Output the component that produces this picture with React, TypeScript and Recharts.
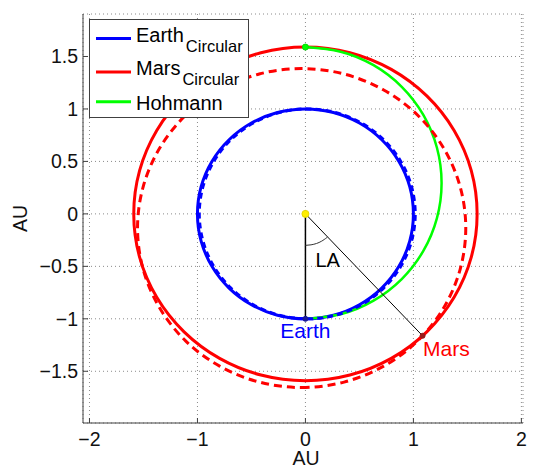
import { LineChart, Line, XAxis, YAxis, CartesianGrid, Legend, ReferenceDot } from 'recharts'

type Pt = [number, number]

const xTicks = [-2, -1, 0, 1, 2]
const yTicks = [-1.5, -1, -0.5, 0, 0.5, 1, 1.5]

// orbits, in AU
const earthCircular: Pt[] = [
  [0, -1], [0.259, -0.966], [0.5, -0.866], [0.707, -0.707], [0.866, -0.5], [0.966, -0.259],
  [1, 0], [0.966, 0.259], [0.866, 0.5], [0.707, 0.707], [0.5, 0.866], [0.259, 0.966],
  [0, 1], [-0.259, 0.966], [-0.5, 0.866], [-0.707, 0.707], [-0.866, 0.5], [-0.966, 0.259],
  [-1, 0], [-0.966, -0.259], [-0.866, -0.5], [-0.707, -0.707], [-0.5, -0.866], [-0.259, -0.966],
  [0, -1],
]

const earthActual: Pt[] = [
  [0.017, -1], [0.276, -0.966], [0.517, -0.866], [0.724, -0.707], [0.883, -0.5], [0.983, -0.259],
  [1.017, 0], [0.983, 0.259], [0.883, 0.5], [0.724, 0.707], [0.517, 0.866], [0.276, 0.966],
  [0.017, 1], [-0.242, 0.966], [-0.483, 0.866], [-0.69, 0.707], [-0.849, 0.5], [-0.949, 0.259],
  [-0.983, 0], [-0.949, -0.259], [-0.849, -0.5], [-0.69, -0.707], [-0.483, -0.866], [-0.242, -0.966],
  [0.017, -1],
]

const marsCircular: Pt[] = [
  [0, -1.59], [0.412, -1.536], [0.795, -1.377], [1.124, -1.124], [1.377, -0.795], [1.536, -0.412],
  [1.59, 0], [1.536, 0.412], [1.377, 0.795], [1.124, 1.124], [0.795, 1.377], [0.412, 1.536],
  [0, 1.59], [-0.412, 1.536], [-0.795, 1.377], [-1.124, 1.124], [-1.377, 0.795], [-1.536, 0.412],
  [-1.59, 0], [-1.536, -0.412], [-1.377, -0.795], [-1.124, -1.124], [-0.795, -1.377], [-0.412, -1.536],
  [0, -1.59],
]

const marsActual: Pt[] = [
  [-0.035, -1.655], [0.358, -1.603], [0.725, -1.451], [1.04, -1.21], [1.281, -0.895], [1.433, -0.528],
  [1.485, -0.135], [1.433, 0.258], [1.281, 0.625], [1.04, 0.94], [0.725, 1.181], [0.358, 1.333],
  [-0.035, 1.385], [-0.428, 1.333], [-0.795, 1.181], [-1.11, 0.94], [-1.351, 0.625], [-1.503, 0.258],
  [-1.555, -0.135], [-1.503, -0.528], [-1.351, -0.895], [-1.11, -1.21], [-0.795, -1.451], [-0.428, -1.603],
  [-0.035, -1.655],
]

const hohmann: Pt[] = [
  [0, -1], [0.326, -0.956], [0.631, -0.827], [0.892, -0.621], [1.092, -0.353], [1.218, -0.04],
  [1.261, 0.295], [1.218, 0.63], [1.092, 0.943], [0.892, 1.211], [0.631, 1.417], [0.326, 1.546],
  [0, 1.59],
]

const sunToEarth: Pt[] = [[0, 0], [0, -1]]
const sunToMars: Pt[] = [[0, 0], [1.085, -1.162]]
const leadAngleArc: Pt[] = [
  [0, -0.3], [0.052, -0.295], [0.103, -0.282], [0.15, -0.26], [0.193, -0.23], [0.205, -0.219],
]

const legendItems = [
  { name: 'Earth', sub: 'Circular', color: '#0000ff' },
  { name: 'Mars', sub: 'Circular', color: '#ff0000' },
  { name: 'Hohmann', sub: '', color: '#00ff00' },
]

const FONT = '"Liberation Sans", Arial, sans-serif'
const AXIS = '#404040'

const toRows = (pts: Pt[]) => pts.map(([x, y]) => ({ x, y }))
const fmt = (v: number) => String(v).replace('-', '\u2212')

// closed Catmull-Rom curve for the orbit loops (natural spline kinks where the loop joins)
const closedLoop = (context: any) => {
  let pts: Pt[] = []
  return {
    areaStart() {},
    areaEnd() {},
    lineStart() {
      pts = []
    },
    point(x: number, y: number) {
      pts.push([+x, +y])
    },
    lineEnd() {
      const first = pts[0]
      const last = pts[pts.length - 1]
      if (pts.length > 2 && Math.abs(first[0] - last[0]) < 1e-6 && Math.abs(first[1] - last[1]) < 1e-6) {
        pts = pts.slice(0, -1)
      }
      const n = pts.length
      if (n < 3) return
      context.moveTo(pts[0][0], pts[0][1])
      for (let i = 0; i < n; i++) {
        const p0 = pts[(i - 1 + n) % n]
        const p1 = pts[i]
        const p2 = pts[(i + 1) % n]
        const p3 = pts[(i + 2) % n]
        context.bezierCurveTo(
          p1[0] + (p2[0] - p0[0]) / 6,
          p1[1] + (p2[1] - p0[1]) / 6,
          p2[0] - (p3[0] - p1[0]) / 6,
          p2[1] - (p3[1] - p1[1]) / 6,
          p2[0],
          p2[1],
        )
      }
      context.closePath()
    },
  }
}

function LegendBox() {
  const lineY = [19.5, 53, 82.7]
  const textY = [22.7, 56, 91]
  return (
    <svg width={160} height={99} style={{ display: 'block' }}>
      <rect x={0.5} y={0.5} width={159} height={98} fill="#fff" stroke={AXIS} />
      {legendItems.map((item, i) => (
        <g key={item.name}>
          <line x1={7} x2={42} y1={lineY[i]} y2={lineY[i]} stroke={item.color} strokeWidth={3} />
          <text x={47} y={textY[i]} fontSize={20} fontFamily={FONT} fill="#000">
            <tspan>{item.name}</tspan>
            {item.sub && (
              <tspan fontSize={16.5} dx={2} dy={10}>
                {item.sub}
              </tspan>
            )}
          </text>
        </g>
      ))}
    </svg>
  )
}

export default function App() {
  return (
    <div style={{ position: 'absolute', left: 0, top: 0, fontFamily: FONT }}>
      <LineChart width={533} height={468} margin={{ top: 14, right: 10, bottom: 0, left: 0 }}>
        <CartesianGrid stroke="#8a8a8a" strokeDasharray="1 3" />
        <XAxis
          type="number"
          dataKey="x"
          domain={[-2.06, 2.015]}
          ticks={xTicks}
          allowDataOverflow
          height={45}
          tickSize={-5}
          tickMargin={14}
          tickFormatter={fmt}
          tick={{ fontSize: 19.5, fill: '#111', fontFamily: FONT }}
          axisLine={{ stroke: AXIS }}
          tickLine={{ stroke: AXIS }}
          label={{ value: 'AU', position: 'insideBottom', offset: 3, dx: 3, fontSize: 19.5, fill: '#111', fontFamily: FONT }}
        />
        <XAxis
          xAxisId="top"
          orientation="top"
          type="number"
          domain={[-2.06, 2.015]}
          ticks={xTicks}
          allowDataOverflow
          height={0}
          tickSize={-5}
          tick={false}
          axisLine={{ stroke: AXIS }}
          tickLine={{ stroke: AXIS }}
        />
        <YAxis
          type="number"
          dataKey="y"
          domain={[-1.993, 1.905]}
          ticks={yTicks}
          allowDataOverflow
          width={83}
          tickSize={-5}
          tickMargin={10}
          tickFormatter={fmt}
          tick={{ fontSize: 19.5, fill: '#111', fontFamily: FONT }}
          axisLine={{ stroke: AXIS }}
          tickLine={{ stroke: AXIS }}
          label={{
            value: 'AU',
            angle: -90,
            position: 'insideLeft',
            offset: 20,
            fontSize: 19.5,
            fill: '#111',
            fontFamily: FONT,
            style: { textAnchor: 'middle' },
          }}
        />
        <YAxis
          yAxisId="right"
          orientation="right"
          type="number"
          domain={[-1.993, 1.905]}
          ticks={yTicks}
          allowDataOverflow
          width={0}
          tickSize={-5}
          tick={false}
          axisLine={{ stroke: AXIS }}
          tickLine={{ stroke: AXIS }}
        />
        <Legend
          layout="horizontal"
          verticalAlign="middle"
          align="center"
          wrapperStyle={{ left: 89, top: 19, width: 160, height: 99 }}
          content={() => <LegendBox />}
        />

        <Line data={toRows(earthCircular)} dataKey="y" type={closedLoop as any} stroke="#0000ff" strokeWidth={3} dot={false} activeDot={false} isAnimationActive={false} />
        <Line data={toRows(marsCircular)} dataKey="y" type={closedLoop as any} stroke="#ff0000" strokeWidth={3} dot={false} activeDot={false} isAnimationActive={false} />
        <Line data={toRows(hohmann)} dataKey="y" type="natural" stroke="#00ff00" strokeWidth={2.5} dot={false} activeDot={false} isAnimationActive={false} />
        <Line data={toRows(earthActual)} dataKey="y" type={closedLoop as any} stroke="#0000ff" strokeWidth={3} strokeDasharray="6 4" dot={false} activeDot={false} isAnimationActive={false} />
        <Line data={toRows(marsActual)} dataKey="y" type={closedLoop as any} stroke="#ff0000" strokeWidth={3} strokeDasharray="8 5" dot={false} activeDot={false} isAnimationActive={false} />
        <Line data={toRows(sunToEarth)} dataKey="y" type="linear" stroke="#000" strokeWidth={1.5} dot={false} activeDot={false} isAnimationActive={false} />
        <Line data={toRows(sunToMars)} dataKey="y" type="linear" stroke="#000" strokeWidth={1} dot={false} activeDot={false} isAnimationActive={false} />
        <Line data={toRows(leadAngleArc)} dataKey="y" type="natural" stroke="#333" strokeWidth={1} dot={false} activeDot={false} isAnimationActive={false} />

        <ReferenceDot x={0} y={0} r={3.5} fill="#ffee00" stroke="#e6d800" />
        <ReferenceDot x={0} y={1.59} r={3} fill="#00ff00" stroke="#00dd00" />
        <ReferenceDot x={0} y={-1} r={2.5} fill="#1a1a99" stroke="#1a1a99" />
        <ReferenceDot x={1.085} y={-1.162} r={2.5} fill="#991a1a" stroke="#991a1a" />

        <ReferenceDot x={0.206} y={-0.438} r={0} label={{ value: 'LA', position: 'center', fontSize: 20, fill: '#000', fontFamily: FONT }} />
        <ReferenceDot x={0} y={-1.111} r={0} label={{ value: 'Earth', position: 'center', fontSize: 21, fill: '#0000ff', fontFamily: FONT }} />
        <ReferenceDot x={1.305} y={-1.279} r={0} label={{ value: 'Mars', position: 'center', fontSize: 21, fill: '#ff0000', fontFamily: FONT }} />
      </LineChart>
    </div>
  )
}
